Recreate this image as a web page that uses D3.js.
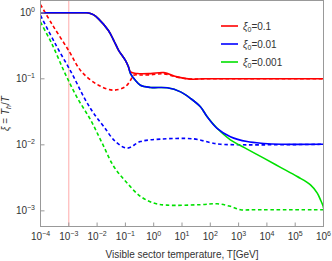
<!doctype html>
<html>
<head>
  <style>
    body { margin: 0; background: #fff; }
    svg { display: block; font-family: "Liberation Sans", Arial, sans-serif; }
  </style>
  <script src="https://cdn.jsdelivr.net/npm/d3@7"></script>
</head>
<body>
<script>
  // exponents of T (log10 T[GeV]) and xi values
  var solidStartLogT = [-4, -3, -2.45, -2.3, -2.12, -1.95, -1.6, -1.41, -1.24, -1.0, -0.89];
  var solidStartXi   = [1, 1, 1, 0.995, 0.93, 0.81, 0.54, 0.38, 0.27, 0.19, 0.151];

  var redSolidLogT = [-0.82, -0.58, -0.11, 0.36, 0.83, 1.3, 1.8, 6];
  var redSolidXi   = [0.127, 0.120, 0.120, 0.124, 0.107, 0.099, 0.1, 0.1];

  var blueSolidLogT = [-0.82, -0.65, -0.47, -0.11, 0.48, 0.95, 1.30, 1.65, 1.89, 2.24, 2.71, 3.30, 3.89, 4.5, 6];
  var blueSolidXi   = [0.120, 0.095, 0.080, 0.074, 0.073, 0.0634, 0.0505, 0.0377, 0.0266, 0.0178, 0.0133, 0.0112, 0.0105, 0.0102, 0.0102];

  var greenSolidLogT = [2.71, 3.30, 3.89, 4.48, 5.07, 5.54, 5.78, 5.89, 5.99, 6];
  var greenSolidXi   = [0.0119, 0.00861, 0.00628, 0.00456, 0.00331, 0.00248, 0.00186, 0.00148, 0.00117, 0.0011];

  var redDashLogT = [-4, -3.6, -3.01, -2.54, -1.95, -1.42, -1.01, -0.82, -0.71, -0.47, -0.11, 0.35, 0.83, 1.3, 1.8, 6];
  var redDashXi   = [1.33, 0.68, 0.27, 0.127, 0.080, 0.0673, 0.0755, 0.095, 0.113, 0.114, 0.115, 0.119, 0.106, 0.099, 0.1, 0.1];

  var blueDashLogT = [-4, -3.48, -2.89, -2.41, -2.12, -1.76, -1.35, -0.94, -0.47, 0.24, 1.42, 2.01, 2.36, 6];
  var blueDashXi   = [0.91, 0.34, 0.120, 0.0475, 0.030, 0.0188, 0.0112, 0.0089, 0.0112, 0.0122, 0.0123, 0.0108, 0.0102, 0.0102];

  var greenDashLogT = [-4, -3.6, -3.13, -2.72, -2.23, -1.82, -1.41, -0.94, -0.47, 0.0, 0.47, 1.65, 2.24, 2.71, 3.07, 3.54, 6];
  var greenDashXi   = [0.72, 0.34, 0.120, 0.0533, 0.0238, 0.0106, 0.00469, 0.00264, 0.00166, 0.00131, 0.00122, 0.00124, 0.00128, 0.00117, 0.00104, 0.00104, 0.00104];

  var xTickExp = [-4, -3, -2, -1, 0, 1, 2, 3, 4, 5, 6];
  var yTickExp = [0, -1, -2, -3];
  var legendLabels = ["0.1", "0.01", "0.001"];
  var colors = ["#ff0000", "#0000ff", "#00e000"];
  var markerT = 1e-3;

  var W = 332, H = 261;
  var pL = 40.5, pR = 323.5, pT = 0.5, pB = 226.5;

  var svg = d3.select("body").append("svg")
      .attr("width", W)
      .attr("height", H);

  var x = d3.scaleLog().domain([1e-4, 1e6]).range([pL, pR]);
  var y = d3.scaleLog().domain([Math.pow(10, -3.237), Math.pow(10, 0.186)]).range([pB, pT]);

  function pts(logT, xi) {
    return logT.map(function(e, i) { return [Math.pow(10, e), xi[i]]; });
  }

  var line = d3.line()
      .x(function(d) { return x(d[0]); })
      .y(function(d) { return y(d[1]); })
      .curve(d3.curveCatmullRom.alpha(0.5));

  svg.append("clipPath").attr("id", "clip")
    .append("rect")
      .attr("x", pL).attr("y", pT)
      .attr("width", pR - pL).attr("height", pB - pT);

  // marker at T = 1 MeV
  svg.append("line")
      .attr("x1", x(markerT)).attr("x2", x(markerT))
      .attr("y1", pT).attr("y2", pB)
      .attr("stroke", "#ffaaaa")
      .attr("stroke-width", 1);

  var g = svg.append("g").attr("clip-path", "url(#clip)");

  var dashed = [
    { d: pts(redDashLogT, redDashXi), c: colors[0] },
    { d: pts(blueDashLogT, blueDashXi), c: colors[1] },
    { d: pts(greenDashLogT, greenDashXi), c: colors[2] }
  ];
  var start = pts(solidStartLogT, solidStartXi);
  var blueFull = start.concat(pts(blueSolidLogT, blueSolidXi));
  var solid = [
    { d: blueFull.filter(function(p) { return p[0] <= Math.pow(10, 2.25); }).concat(pts(greenSolidLogT, greenSolidXi)), c: colors[2] },
    { d: start.concat(pts(redSolidLogT, redSolidXi)), c: colors[0] },
    { d: blueFull, c: colors[1] }
  ];

  g.selectAll("path.dash")
    .data(dashed)
    .enter().append("path")
      .attr("class", "dash")
      .attr("d", function(s) { return line(s.d); })
      .attr("fill", "none")
      .attr("stroke", function(s) { return s.c; })
      .attr("stroke-width", 1.6)
      .attr("stroke-dasharray", "3.6,2.6");

  g.selectAll("path.solid")
    .data(solid)
    .enter().append("path")
      .attr("class", "solid")
      .attr("d", function(s) { return line(s.d); })
      .attr("fill", "none")
      .attr("stroke", function(s) { return s.c; })
      .attr("stroke-width", 1.6);

  // frame
  svg.append("rect")
      .attr("x", pL).attr("y", pT)
      .attr("width", pR - pL).attr("height", pB - pT)
      .attr("fill", "none")
      .attr("stroke", "#999");

  // x ticks
  svg.selectAll("line.xt")
    .data(xTickExp)
    .enter().append("line")
      .attr("x1", function(e) { return x(Math.pow(10, e)); })
      .attr("x2", function(e) { return x(Math.pow(10, e)); })
      .attr("y1", pB).attr("y2", pB - 4)
      .attr("stroke", "#999");

  var xl = svg.selectAll("text.xl")
    .data(xTickExp)
    .enter().append("text")
      .attr("x", function(e) { return x(Math.pow(10, e)); })
      .attr("y", 240)
      .attr("text-anchor", "middle")
      .attr("font-size", 10)
      .attr("fill", "#333");
  xl.append("tspan").text("10");
  xl.append("tspan").attr("dy", -4).attr("font-size", 7)
    .text(function(e) { return e < 0 ? "\u2212" + (-e) : e; });

  // y ticks
  svg.selectAll("line.yt")
    .data(yTickExp)
    .enter().append("line")
      .attr("x1", pL).attr("x2", pL + 4)
      .attr("y1", function(e) { return y(Math.pow(10, e)); })
      .attr("y2", function(e) { return y(Math.pow(10, e)); })
      .attr("stroke", "#999");

  var yl = svg.selectAll("text.yl")
    .data(yTickExp)
    .enter().append("text")
      .attr("x", 35)
      .attr("y", function(e) { return y(Math.pow(10, e)) + 3.5; })
      .attr("text-anchor", "end")
      .attr("font-size", 10)
      .attr("fill", "#333");
  yl.append("tspan").text("10");
  yl.append("tspan").attr("dy", -4).attr("font-size", 7)
    .text(function(e) { return e < 0 ? "\u2212" + (-e) : e; });

  // axis labels
  svg.append("text")
      .attr("x", (pL + pR) / 2)
      .attr("y", 258)
      .attr("text-anchor", "middle")
      .attr("font-size", 10)
      .attr("fill", "#333")
      .text("Visible sector temperature, T[GeV]");

  var ylab = svg.append("text")
      .attr("transform", "translate(9," + ((pT + pB) / 2) + ") rotate(-90)")
      .attr("text-anchor", "middle")
      .attr("font-size", 10)
      .attr("fill", "#333");
  ylab.append("tspan").attr("font-style", "italic").text("\u03be");
  ylab.append("tspan").text(" = ");
  ylab.append("tspan").attr("font-style", "italic").text("T");
  ylab.append("tspan").attr("font-style", "italic").attr("font-size", 7).attr("dy", 2).text("h");
  ylab.append("tspan").attr("dy", -2).text("/");
  ylab.append("tspan").attr("font-style", "italic").text("T");

  // legend
  var leg = svg.selectAll("g.leg")
    .data(legendLabels)
    .enter().append("g")
      .attr("transform", function(d, i) { return "translate(221," + (26 + i * 18) + ")"; });
  leg.append("line")
      .attr("x1", 0).attr("x2", 17)
      .attr("stroke", function(d, i) { return colors[i]; })
      .attr("stroke-width", 1.6);
  var lt = leg.append("text")
      .attr("x", 22).attr("y", 3.5)
      .attr("font-size", 10)
      .attr("fill", "#333");
  lt.append("tspan").attr("font-style", "italic").text("\u03be");
  lt.append("tspan").attr("font-size", 7).attr("dy", 2).text("0");
  lt.append("tspan").attr("dy", -2).text(function(d) { return "=" + d; });
</script>
</body>
</html>
